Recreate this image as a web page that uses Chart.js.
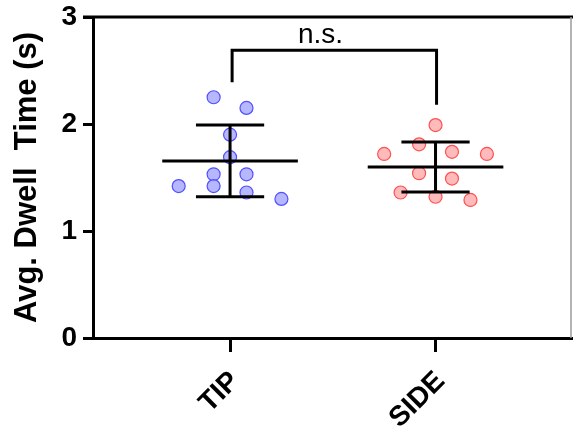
<!DOCTYPE html>
<html>
<head>
<meta charset="utf-8">
<script src="https://cdn.jsdelivr.net/npm/chart.js@4.4.1/dist/chart.umd.min.js"></script>
<style>
  html, body { margin: 0; padding: 0; background: #fff; }
  #wrap { width: 573px; height: 426px; }
</style>
</head>
<body>
<div id="wrap"><canvas id="chart"></canvas></div>
<script>
// groups on the x axis
const categories = ['TIP', 'SIDE']
const yTicks = [0, 1, 2, 3]

// per-cell values (seconds)
const tipValues = [2.25, 2.15, 1.90, 1.69, 1.53, 1.53, 1.42, 1.42, 1.36, 1.30]
const sideValues = [1.99, 1.81, 1.74, 1.72, 1.72, 1.54, 1.49, 1.36, 1.32, 1.29]
// horizontal scatter of the points around each category (category units)
const tipJitter = [-0.08, 0.08, 0, 0, -0.08, 0.08, -0.25, -0.08, 0.08, 0.25]
const sideJitter = [0, -0.08, 0.08, -0.25, 0.25, -0.08, 0.08, -0.17, 0, 0.17]

// significance bracket
const bracketY = [2.39, 2.69, 2.69, 2.18]
const bracketLabel = 'n.s.'

const FONT = 'Arial, "Liberation Sans", sans-serif'

const mean = (arr) => arr.reduce((a, b) => a + b, 0) / arr.length
const sd = (arr) => {
  const m = mean(arr)
  return Math.sqrt(arr.reduce((a, b) => a + (b - m) ** 2, 0) / (arr.length - 1))
}

// mean line + SD whiskers, segments split by null gaps
const summaryPoints = (xc, values) => {
  const m = mean(values)
  const s = sd(values)
  return [
    { x: xc - 0.33, y: m }, { x: xc + 0.33, y: m }, { x: xc, y: null },
    { x: xc, y: m - s }, { x: xc, y: m + s }, { x: xc, y: null },
    { x: xc - 0.166, y: m + s }, { x: xc + 0.166, y: m + s }, { x: xc, y: null },
    { x: xc - 0.166, y: m - s }, { x: xc + 0.166, y: m - s }, { x: xc, y: null },
  ]
}

const bracketPoints = [
  { x: 1.01, y: bracketY[0] },
  { x: 1.01, y: bracketY[1] },
  { x: 2.005, y: bracketY[2] },
  { x: 2.005, y: bracketY[3] },
]

const framePlugin = {
  id: 'frame',
  afterDraw(chart) {
    const { ctx, chartArea, scales } = chart
    ctx.save()
    // top border
    ctx.strokeStyle = '#000'
    ctx.lineWidth = 3
    ctx.beginPath()
    ctx.moveTo(chartArea.left - 10, chartArea.top)
    ctx.lineTo(chartArea.right, chartArea.top)
    ctx.stroke()
    // right border
    ctx.strokeStyle = '#9a9a9a'
    ctx.lineWidth = 1.5
    ctx.beginPath()
    ctx.moveTo(chartArea.right - 2, chartArea.top)
    ctx.lineTo(chartArea.right - 2, chartArea.bottom)
    ctx.stroke()
    // n.s. label over bracket
    ctx.fillStyle = '#000'
    ctx.font = '28px ' + FONT
    ctx.textAlign = 'center'
    ctx.textBaseline = 'alphabetic'
    ctx.fillText(bracketLabel, scales.x.getPixelForValue(1.44), scales.y.getPixelForValue(bracketY[1]) - 7)
    ctx.restore()
  },
}

const config = {
  type: 'scatter',
  data: {
    datasets: [
      {
        label: 'bracket',
        data: bracketPoints,
        showLine: true,
        borderColor: '#000',
        borderWidth: 3,
        pointRadius: 0,
        borderJoinStyle: 'miter',
      },
      {
        label: 'TIP summary',
        data: summaryPoints(1, tipValues),
        showLine: true,
        spanGaps: false,
        borderColor: '#000',
        borderWidth: 3,
        pointRadius: 0,
      },
      {
        label: 'SIDE summary',
        data: summaryPoints(2, sideValues),
        showLine: true,
        spanGaps: false,
        borderColor: '#000',
        borderWidth: 3,
        pointRadius: 0,
      },
      {
        label: categories[0],
        data: tipValues.map((v, i) => ({ x: 1 + tipJitter[i], y: v })),
        backgroundColor: 'rgba(165, 165, 255, 0.8)',
        borderColor: 'rgb(80, 80, 255)',
        borderWidth: 1.2,
        pointRadius: 6.5,
      },
      {
        label: categories[1],
        data: sideValues.map((v, i) => ({ x: 2 + sideJitter[i], y: v })),
        backgroundColor: 'rgba(255, 170, 170, 0.8)',
        borderColor: 'rgb(255, 80, 80)',
        borderWidth: 1.2,
        pointRadius: 6.5,
      },
    ],
  },
  options: {
    responsive: true,
    maintainAspectRatio: false,
    animation: false,
    events: [],
    layout: { autoPadding: false, padding: { left: 0, top: 17, right: 0, bottom: 0 } },
    plugins: {
      legend: { display: false },
      tooltip: { enabled: false },
    },
    scales: {
      x: {
        type: 'linear',
        min: 0.333,
        max: 2.669,
        afterBuildTicks: (scale) => {
          scale.ticks = categories.map((c, i) => ({ value: i + 1 }))
        },
        afterFit: (scale) => {
          scale.height = 88
          scale.paddingLeft = 0
          scale.paddingRight = 0
        },
        border: { display: true, color: '#000', width: 3 },
        grid: { drawOnChartArea: false, drawTicks: true, tickLength: 14, tickWidth: 3, tickColor: '#000' },
        ticks: {
          color: '#000',
          font: { family: FONT, size: 28, weight: 'bold' },
          minRotation: 45,
          maxRotation: 45,
          padding: 13,
          labelOffset: 5,
          autoSkip: false,
          callback: (v) => categories[v - 1] ?? '',
        },
      },
      y: {
        min: 0,
        max: 3,
        afterBuildTicks: (scale) => {
          scale.ticks = yTicks.map((v) => ({ value: v }))
        },
        afterFit: (scale) => {
          scale.width = 93
          scale.paddingTop = 0
          scale.paddingBottom = 0
        },
        border: { display: true, color: '#000', width: 3 },
        grid: { drawOnChartArea: false, drawTicks: true, tickLength: 10, tickWidth: 3, tickColor: '#000' },
        ticks: {
          color: '#000',
          font: { family: FONT, size: 28, weight: 'bold' },
          padding: 6,
        },
        title: {
          display: true,
          text: 'Avg. Dwell  Time (s)',
          color: '#000',
          font: { family: FONT, size: 31, weight: 'bold' },
          padding: { top: 9, bottom: 0 },
        },
      },
    },
  },
  plugins: [framePlugin],
}

new Chart(document.getElementById('chart'), config)
</script>
</body>
</html>
